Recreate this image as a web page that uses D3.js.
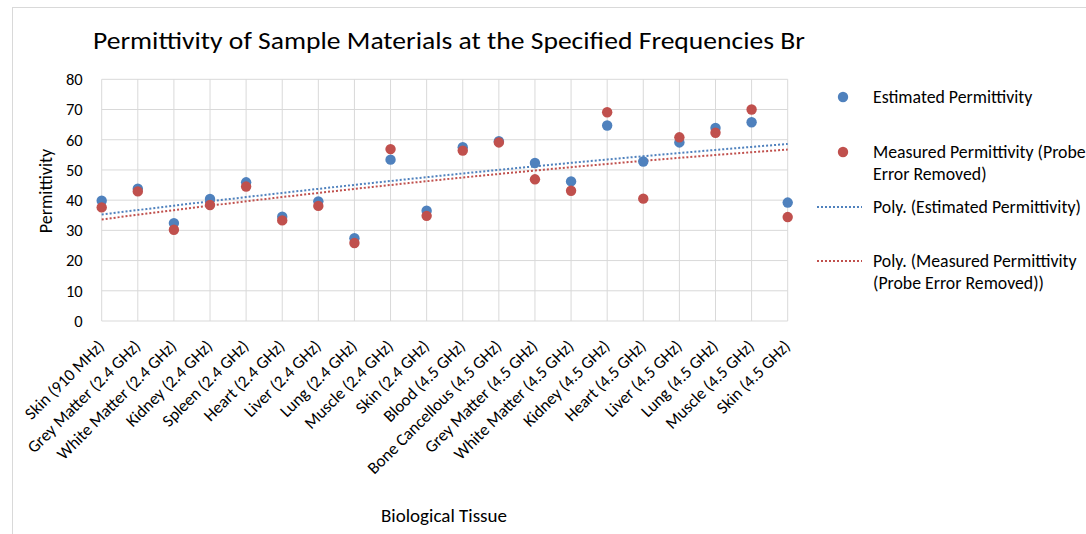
<!DOCTYPE html>
<html><head><meta charset="utf-8">
<script src="https://cdn.jsdelivr.net/npm/d3@7"></script>
<style>body{margin:0;background:#fff}svg{display:block}text{font-family:Carlito,"Open Sans","Liberation Sans",sans-serif;fill:#000}</style>
</head><body>
<svg id="c" width="1086" height="534"></svg>
<script>
const categories = ["Skin (910 MHz)","Grey Matter (2.4 GHz)","White Matter (2.4 GHz)","Kidney (2.4 GHz)","Spleen (2.4 GHz)","Heart (2.4 GHz)","Liver (2.4 GHz)","Lung (2.4 GHz)","Muscle (2.4 GHz)","Skin (2.4 GHz)","Blood (4.5 GHz)","Bone Cancellous (4.5 GHz)","Grey Matter (4.5 GHz)","White Matter (4.5 GHz)","Kidney (4.5 GHz)","Heart (4.5 GHz)","Liver (4.5 GHz)","Lung (4.5 GHz)","Muscle (4.5 GHz)","Skin (4.5 GHz)"];
const estimated = [39.8,43.8,32.4,40.4,45.9,34.5,39.6,27.4,53.4,36.5,57.5,59.5,52.3,46.2,64.7,52.8,59.1,63.9,65.8,39.2];
const measured  = [37.6,42.9,30.2,38.4,44.5,33.3,38.1,25.8,56.9,34.8,56.4,59.1,46.9,43.1,69.1,40.5,60.8,62.3,70.0,34.4];
const yTicks = [0,10,20,30,40,50,60,70,80];
const titleText = "Permittivity of Sample Materials at the Specified Frequencies Br";

const blue = "#4F81BD", red = "#C0504D", grid = "#D9D9D9";
const FONT = 'Carlito,"Open Sans","Liberation Sans",sans-serif';
const svg = d3.select("#c");
const x = d3.scaleLinear().domain([0, categories.length-1]).range([101.7, 787.7]);
const y = d3.scaleLinear().domain([0, 80]).range([321, 79.3]);

// chart border
svg.append("rect").attr("x",12.5).attr("y",7.5).attr("width",1200).attr("height",600)
  .attr("fill","none").attr("stroke","#D9D9D9");

// gridlines
svg.append("g").selectAll("line").data(yTicks).join("line")
  .attr("x1",x(0)).attr("x2",x(categories.length-1))
  .attr("y1",d=>y(d)).attr("y2",d=>y(d)).attr("stroke",grid).attr("stroke-width",1);
svg.append("g").selectAll("line").data(d3.range(categories.length)).join("line")
  .attr("x1",d=>x(d)).attr("x2",d=>x(d)).attr("y1",y(0)).attr("y2",y(80))
  .attr("stroke",grid).attr("stroke-width",1);

// y axis labels
const yAxis = d3.axisLeft(y).tickValues(yTicks).tickSize(0).tickPadding(0);
const gy = svg.append("g").attr("transform",`translate(${x(0)-19},0)`).call(yAxis);
gy.select(".domain").remove();
gy.selectAll("text").attr("font-size",16.5).attr("fill","#000").style("font-family",FONT);

// x axis labels
const xAxis = d3.axisBottom(x).tickValues(d3.range(categories.length)).tickFormat(i=>categories[i]).tickSize(0).tickPadding(0);
const gx = svg.append("g").attr("transform",`translate(0,${y(0)})`).call(xAxis);
gx.select(".domain").remove();
gx.selectAll("text").attr("font-size",17).attr("fill","#000")
  .style("font-family",FONT)
  .attr("text-anchor","end").attr("dy",null).attr("y",0)
  .attr("transform","translate(3,26) rotate(-45)");

// polynomial (order 2) trendlines via least squares
function polyFit(ys){
  const S=[0,0,0,0,0], T=[0,0,0];
  ys.forEach((v,i)=>{const t=i+1; for(let k=0;k<5;k++)S[k]+=Math.pow(t,k); for(let k=0;k<3;k++)T[k]+=v*Math.pow(t,k);});
  const A=[[S[0],S[1],S[2],T[0]],[S[1],S[2],S[3],T[1]],[S[2],S[3],S[4],T[2]]];
  for(let i=0;i<3;i++){for(let j=i+1;j<3;j++){const f=A[j][i]/A[i][i];for(let k=i;k<4;k++)A[j][k]-=f*A[i][k];}}
  const c=[0,0,0];
  for(let i=2;i>=0;i--){let s=A[i][3];for(let k=i+1;k<3;k++)s-=A[i][k]*c[k];c[i]=s/A[i][i];}
  return t=>c[0]+c[1]*t+c[2]*t*t;
}
const line = d3.line().x(d=>x(d[0])).y(d=>y(d[1]));
[[estimated,blue],[measured,red]].forEach(([arr,col])=>{
  const f=polyFit(arr);
  const pts=d3.range(0,categories.length-1+0.001,0.25).map(i=>[i,f(i+1)]);
  svg.append("path").datum(pts).attr("d",line).attr("fill","none")
    .attr("stroke",col).attr("stroke-width",2).attr("stroke-dasharray","2,2");
});

// points
[[estimated,blue],[measured,red]].forEach(([arr,col])=>{
  svg.append("g").selectAll("circle").data(arr).join("circle")
    .attr("cx",(d,i)=>x(i)).attr("cy",d=>y(d)).attr("r",5.2).attr("fill",col);
});

// titles
svg.append("text").attr("x",93).attr("y",49).attr("font-size",25).text(titleText)
  .attr("textLength",712).attr("lengthAdjust","spacingAndGlyphs");
svg.append("text").attr("transform",`translate(52,191) rotate(-90)`).attr("text-anchor","middle")
  .attr("font-size",18).text("Permittivity");
svg.append("text").attr("x",444).attr("y",522).attr("text-anchor","middle").attr("font-size",19).text("Biological Tissue");

// legend
const lg = svg.append("g").attr("font-size",17.8);
lg.append("circle").attr("cx",843).attr("cy",97).attr("r",5.2).attr("fill",blue);
lg.append("text").attr("x",873).attr("y",103).text("Estimated Permittivity");
lg.append("circle").attr("cx",843).attr("cy",152).attr("r",5.2).attr("fill",red);
lg.append("text").attr("x",873).attr("y",158).text("Measured Permittivity (Probe");
lg.append("text").attr("x",873).attr("y",180).text("Error Removed)");
lg.append("line").attr("x1",817).attr("x2",862).attr("y1",207).attr("y2",207).attr("stroke",blue).attr("stroke-width",2).attr("stroke-dasharray","2,2");
lg.append("text").attr("x",873).attr("y",213).text("Poly. (Estimated Permittivity)");
lg.append("line").attr("x1",817).attr("x2",862).attr("y1",261).attr("y2",261).attr("stroke",red).attr("stroke-width",2).attr("stroke-dasharray","2,2");
lg.append("text").attr("x",873).attr("y",267).text("Poly. (Measured Permittivity");
lg.append("text").attr("x",873).attr("y",289).text("(Probe Error  Removed))");
</script>
</body></html>
